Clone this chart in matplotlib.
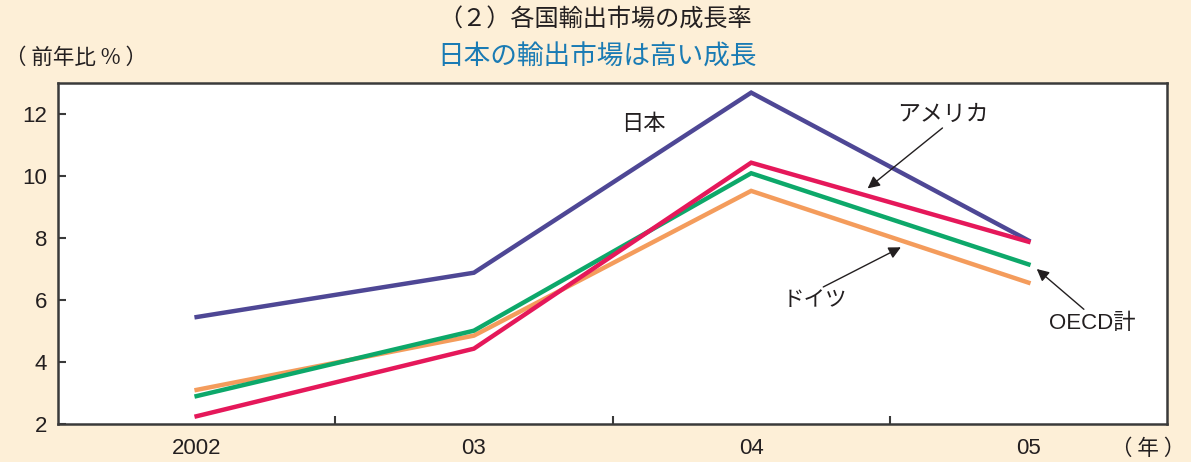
import matplotlib
matplotlib.use("Agg")
import matplotlib.pyplot as plt
import numpy as np

plt.rcParams['font.family'] = ['Noto Sans CJK JP', 'DejaVu Sans']

years = ['2002', '03', '04', '05']
japan = [5.45, 6.88, 12.69, 7.92]
usa = [2.25, 4.43, 10.43, 7.88]
oecd = [2.9, 5.01, 10.09, 7.15]
germany = [3.1, 4.85, 9.52, 6.56]

bg = '#FDEFD7'
ink = '#231F20'

fig = plt.figure(figsize=(11.91, 4.62), dpi=100, facecolor=bg)
ax = fig.add_axes([0.0487, 0.0823, 0.9312, 0.738])
ax.set_facecolor('white')

x = np.arange(len(years))
ax.plot(x, japan, color='#4E4795', lw=3.2, solid_joinstyle='miter', zorder=3)
ax.plot(x, usa, color='#E5185A', lw=3.2, solid_joinstyle='miter', zorder=4)
ax.plot(x, oecd, color='#0DA86A', lw=3.2, solid_joinstyle='miter', zorder=3)
ax.plot(x, germany, color='#F49C5C', lw=3.2, solid_joinstyle='miter', zorder=2)

ax.set_xlim(-0.5, 3.5)
ax.set_ylim(2, 13)
ax.set_yticks(range(2, 13, 2))
ax.set_xticks(x)
ax.set_xticklabels(years)
ax.set_xticks([0.5, 1.5, 2.5], minor=True)

for s in ax.spines.values():
    s.set_color('#3A3A3A')
    s.set_linewidth(1.8)

ax.tick_params(axis='y', direction='in', length=6, width=1.5, color='#3A3A3A',
               labelsize=16, labelcolor=ink, pad=8)
ax.tick_params(axis='x', which='major', length=0, labelsize=16,
               labelcolor=ink, pad=10)
ax.tick_params(axis='x', which='minor', direction='in', length=6, width=1.5,
               color='#3A3A3A')
for lab in ax.get_xticklabels() + ax.get_yticklabels():
    lab.set_family(['Liberation Sans', 'DejaVu Sans'])

# series labels and arrows
arrow = dict(arrowstyle='-|>', color=ink, lw=1.0, mutation_scale=18,
             shrinkA=0, shrinkB=0)
ax.text(1.61, 11.7, '日本', fontsize=16, color=ink, ha='center', va='center')
ax.text(2.69, 12.0, 'アメリカ', fontsize=16.5, color=ink, ha='center', va='center')
ax.annotate('', xy=(2.42, 9.6), xytext=(2.69, 11.55), arrowprops=arrow)
ax.text(2.23, 6.0, 'ドイツ', fontsize=15.5, color=ink, ha='center', va='center')
ax.annotate('', xy=(2.54, 7.7), xytext=(2.26, 6.42), arrowprops=arrow)
ax.text(3.23, 5.25, 'OECD計', fontsize=16, color=ink, ha='center', va='center',
        family=['Liberation Sans', 'Noto Sans CJK JP'])
ax.annotate('', xy=(3.03, 7.0), xytext=(3.2, 5.7), arrowprops=arrow)

fig.text(0.5, 0.958, '（２）各国輸出市場の成長率', fontsize=17.4, color=ink,
         ha='center', va='center')
fig.text(0.501, 0.876, '日本の輸出市場は高い成長', fontsize=19.2, color='#1A7BB4',
         ha='center', va='center')
fig.text(0.004, 0.874, '（ 前年比 % ）', fontsize=15.5, color=ink, ha='left',
         va='center')
fig.text(0.995, 0.028, '（ 年 ）', fontsize=15.5, color=ink, ha='right',
         va='center')

fig.savefig('out.png', dpi=100, facecolor=bg)
